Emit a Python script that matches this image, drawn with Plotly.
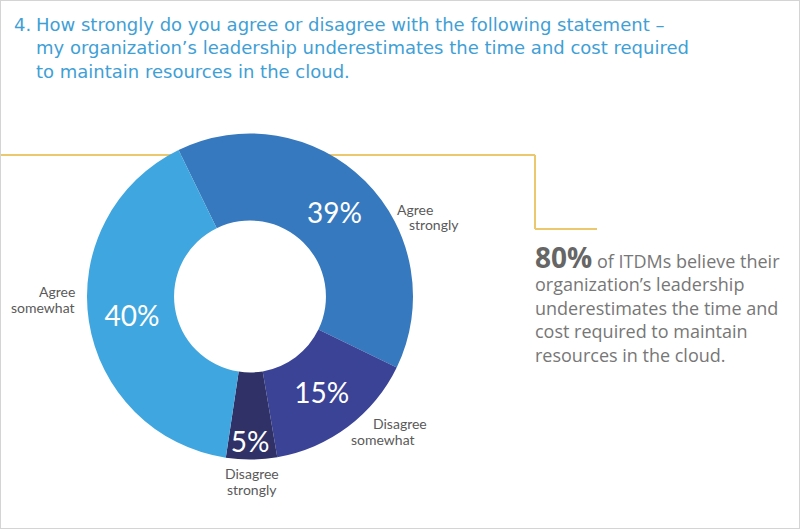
import plotly.graph_objects as go

# survey answers, clockwise from the top-left boundary
labels = ["Agree strongly", "Disagree somewhat", "Disagree strongly", "Agree somewhat"]
values = [39, 15, 5, 40]
colors = ["#3679BF", "#3B4397", "#2F3167", "#40A6DF"]

title_number = "4."
title_lines = [
    "How strongly do you agree or disagree with the following statement \u2013",
    "my organization\u2019s leadership underestimates the time and cost required",
    "to maintain resources in the cloud.",
]
callout_big = "80%"
callout_lines = [
    " of ITDMs believe their",
    "organization\u2019s leadership",
    "underestimates the time and",
    "cost required to maintain",
    "resources in the cloud.",
]

W, H = 800, 529


def px(x):
    return x / W


def py(y):
    return 1 - y / H


GREY = "#5a5a5a"
GOLD = "#EBC76E"
BLUE = "#3FA0D6"

fig = go.Figure(
    data=[
        go.Pie(
            labels=labels,
            values=values,
            hole=0.466,
            sort=False,
            direction="clockwise",
            rotation=-26,
            marker=dict(colors=colors, line=dict(width=0)),
            texttemplate="%{value}%",
            textposition="inside",
            insidetextorientation="horizontal",
            textfont=dict(family="Lato", size=28, color="white"),
            domain=dict(x=[px(87), px(413)], y=[py(459.5), py(133.5)]),
            showlegend=False,
            hoverinfo="label+value",
        )
    ]
)

# slice names around the ring (one annotation per line, as in the original)
slice_names = [
    ("Agree", 415, 209, "center"),
    ("strongly", 434, 224, "center"),
    ("Agree", 77, 291, "right"),
    ("somewhat", 77, 307, "right"),
    ("Disagree", 400, 423, "center"),
    ("somewhat", 383, 439, "center"),
    ("Disagree", 252, 473, "center"),
    ("strongly", 252, 489, "center"),
]
annotations = []
for text, x, y, anchor in slice_names:
    annotations.append(dict(
        text=text, x=px(x), y=py(y), xref="paper", yref="paper",
        xanchor=anchor, yanchor="middle", showarrow=False,
        font=dict(family="Lato", size=14, color=GREY),
    ))

# question title with a hanging number
title_font = dict(family="DejaVu Sans", size=18, color=BLUE)
annotations.append(dict(
    text=title_number, x=px(12), y=py(12), xref="paper", yref="paper",
    xanchor="left", yanchor="top", showarrow=False, font=title_font,
))
annotations.append(dict(
    text="<br>".join(title_lines), x=px(34), y=py(12), xref="paper", yref="paper",
    xanchor="left", yanchor="top", align="left", showarrow=False, font=title_font,
))

# callout on the right
annotations.append(dict(
    text=f"<b><span style='font-size:28px;color:#666666'>{callout_big}</span></b>"
         + "<br>".join(callout_lines),
    x=px(533), y=py(236), xref="paper", yref="paper",
    xanchor="left", yanchor="top", align="left", showarrow=False,
    font=dict(family="Open Sans", size=18, color="#777777"),
))

gold = dict(color=GOLD, width=2)
shapes = [
    dict(type="line", xref="paper", yref="paper", x0=0, y0=py(155), x1=px(535), y1=py(155),
         line=gold, layer="below"),
    dict(type="line", xref="paper", yref="paper", x0=px(535), y0=py(155), x1=px(535), y1=py(229),
         line=gold, layer="below"),
    dict(type="line", xref="paper", yref="paper", x0=px(535), y0=py(229), x1=px(597), y1=py(229),
         line=gold, layer="below"),
    dict(type="rect", xref="paper", yref="paper", x0=0, y0=0, x1=1, y1=1,
         line=dict(color="#d4d4d4", width=2), layer="above"),
]

fig.update_layout(
    width=W, height=H,
    margin=dict(l=0, r=0, t=0, b=0),
    paper_bgcolor="white",
    plot_bgcolor="white",
    annotations=annotations,
    shapes=shapes,
    uniformtext=dict(minsize=28, mode="show"),
)

# drop the default body margin so the figure sits at the window origin
fig.write_html("out.html", config={"displayModeBar": False},
               post_script="document.body.style.margin='0';")
